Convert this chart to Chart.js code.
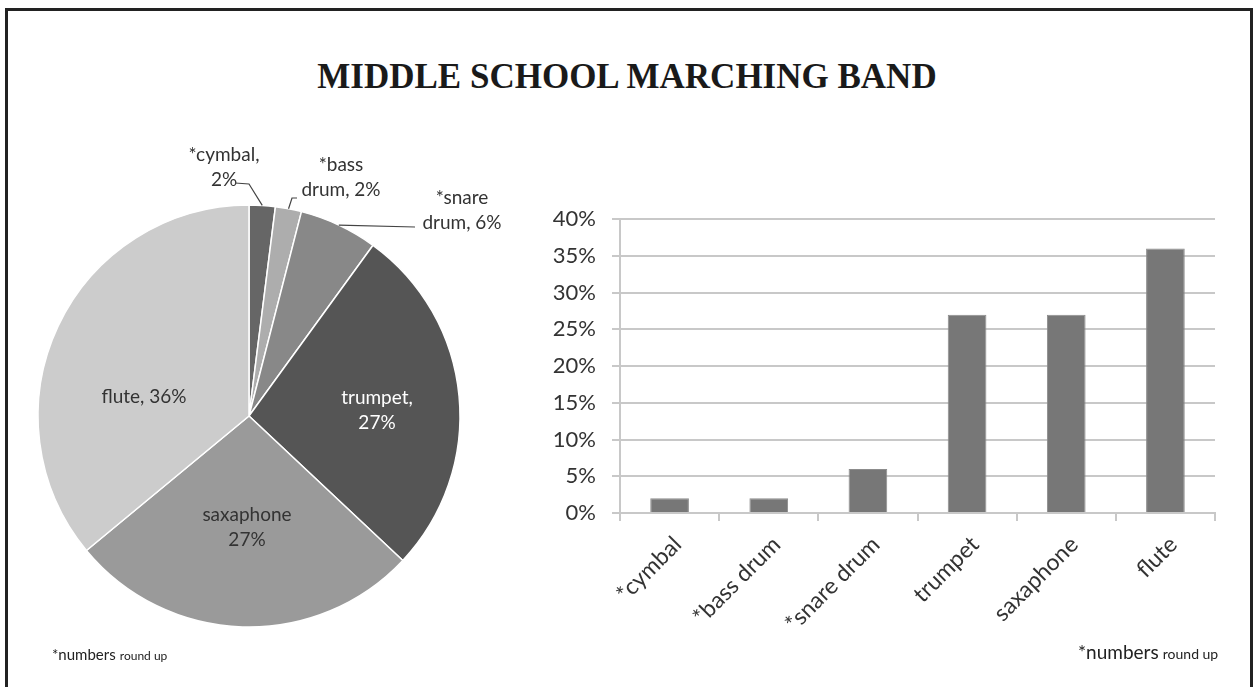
<!DOCTYPE html>
<html>
<head>
<meta charset="utf-8">
<script src="https://cdn.jsdelivr.net/npm/chart.js@4.4.1/dist/chart.umd.min.js"></script>
<style>
body { margin: 0; background: #fff; }
#page { position: relative; width: 1254px; height: 687px; overflow: hidden; background: #fff; }
#frame { position: absolute; left: 5px; top: 8px; width: 1248px; height: 700px; border: 3px solid #222; box-sizing: border-box; }
#title { position: absolute; left: 0; width: 1254px; top: 57px; text-align: center; font: bold 35px "Liberation Serif", serif; color: #1a1a1a; }
.note { position: absolute; font-family: Lato, sans-serif; color: #222; white-space: nowrap; }
#pieWrap { position: absolute; left: 20px; top: 140px; width: 490px; height: 520px; }
#barWrap { position: absolute; left: 520px; top: 190px; width: 730px; height: 480px; }
</style>
</head>
<body>
<div id="page">
  <div id="frame"></div>
  <div id="title">MIDDLE SCHOOL MARCHING BAND</div>
  <div id="pieWrap"><canvas id="pieChart" width="490" height="520"></canvas></div>
  <div id="barWrap"><canvas id="barChart" width="730" height="480"></canvas></div>
  <div class="note" style="left:52px; top:644px;"><span style="font-size:15px">*numbers</span> <span style="font-size:12px">round up</span></div>
  <div class="note" style="left:1078px; top:640px;"><span style="font-size:19px">*numbers</span> <span style="font-size:14px">round up</span></div>
</div>

<script>
const instruments = ["*cymbal", "*bass drum", "*snare drum", "trumpet", "saxaphone", "flute"]
const shares = [2, 2, 6, 27, 27, 36]
const sliceColors = ["#666666", "#adadad", "#888888", "#555555", "#9a9a9a", "#cccccc"]
const yTicks = [0, 5, 10, 15, 20, 25, 30, 35, 40]

// pie label text, offset from pie centre, and leader line points
const pieLabels = [
    { lines: ["*cymbal,", "2%"], dx: -25, dy: -261, color: "#333", leader: [[-14, -233], [0, -232]] },
    { lines: ["*bass", "drum, 2%"], dx: 92, dy: -251, color: "#333", leader: [[48, -218], [43, -218]] },
    { lines: ["*snare", "drum, 6%"], dx: 213, dy: -218, color: "#333", leader: [[166, -189]] },
    { lines: ["trumpet,", "27%"], dx: 128, dy: -18, color: "#fff" },
    { lines: ["saxaphone", "27%"], dx: -2, dy: 99, color: "#333" },
    { lines: ["flute, 36%"], dx: -105, dy: -19, color: "#333" }
]

Chart.defaults.font.family = "Lato, sans-serif"
Chart.defaults.animation = false

const pieLabelPlugin = {
    id: "pieLabels",
    afterDatasetsDraw(chart) {
        const ctx = chart.ctx
        const arcs = chart.getDatasetMeta(0).data
        ctx.save()
        ctx.font = "19px Lato, sans-serif"
        ctx.textAlign = "center"
        ctx.textBaseline = "middle"
        arcs.forEach((arc, i) => {
            const lab = pieLabels[i]
            const cx = arc.x, cy = arc.y
            lab.lines.forEach((t, k) => {
                ctx.fillStyle = lab.color
                ctx.fillText(t, cx + lab.dx, cy + lab.dy + k * 25)
            })
            if (lab.leader) {
                const mid = (arc.startAngle + arc.endAngle) / 2
                const ex = cx + Math.cos(mid) * arc.outerRadius
                const ey = cy + Math.sin(mid) * arc.outerRadius
                ctx.strokeStyle = "#444"
                ctx.lineWidth = 1.2
                ctx.beginPath()
                ctx.moveTo(cx + lab.leader[0][0], cy + lab.leader[0][1])
                lab.leader.slice(1).forEach(p => ctx.lineTo(cx + p[0], cy + p[1]))
                ctx.lineTo(ex, ey)
                ctx.stroke()
            }
        })
        ctx.restore()
    }
}

new Chart(document.getElementById("pieChart"), {
    type: "pie",
    data: {
        labels: instruments,
        datasets: [{
            data: shares,
            backgroundColor: sliceColors,
            borderColor: "#ffffff",
            borderWidth: 1.5,
            radius: 211
        }]
    },
    options: {
        responsive: false,
        layout: { padding: { left: 0, right: 32, top: 32, bottom: 0 } },
        plugins: { legend: { display: false }, tooltip: { enabled: false } }
    },
    plugins: [pieLabelPlugin]
})

new Chart(document.getElementById("barChart"), {
    type: "bar",
    data: {
        labels: instruments,
        datasets: [{
            data: shares,
            backgroundColor: "#777777",
            borderColor: "#8c8c8c",
            borderWidth: 1,
            barPercentage: 0.39,
            categoryPercentage: 1
        }]
    },
    options: {
        responsive: false,
        layout: { padding: { left: 0, right: 35, top: 27, bottom: 0 } },
        plugins: { legend: { display: false }, tooltip: { enabled: false } },
        scales: {
            y: {
                min: 0,
                max: 40,
                afterBuildTicks: s => { s.ticks = yTicks.map(v => ({ value: v })) },
                afterFit: s => { s.width = 100 },
                ticks: { callback: v => v + "%", color: "#333", font: { size: 22 }, padding: 16 },
                grid: { color: "#c8c8c8", lineWidth: 2, tickLength: 8 },
                border: { color: "#c8c8c8", width: 2 }
            },
            x: {
                afterFit: s => { s.height = 157 },
                ticks: { color: "#333", font: { size: 23 }, minRotation: 45, maxRotation: 45, padding: 10, labelOffset: 8 },
                grid: { drawOnChartArea: false, color: "#c8c8c8", lineWidth: 2, tickLength: 8 },
                border: { color: "#c8c8c8", width: 2 }
            }
        }
    }
})
</script>
</body>
</html>
